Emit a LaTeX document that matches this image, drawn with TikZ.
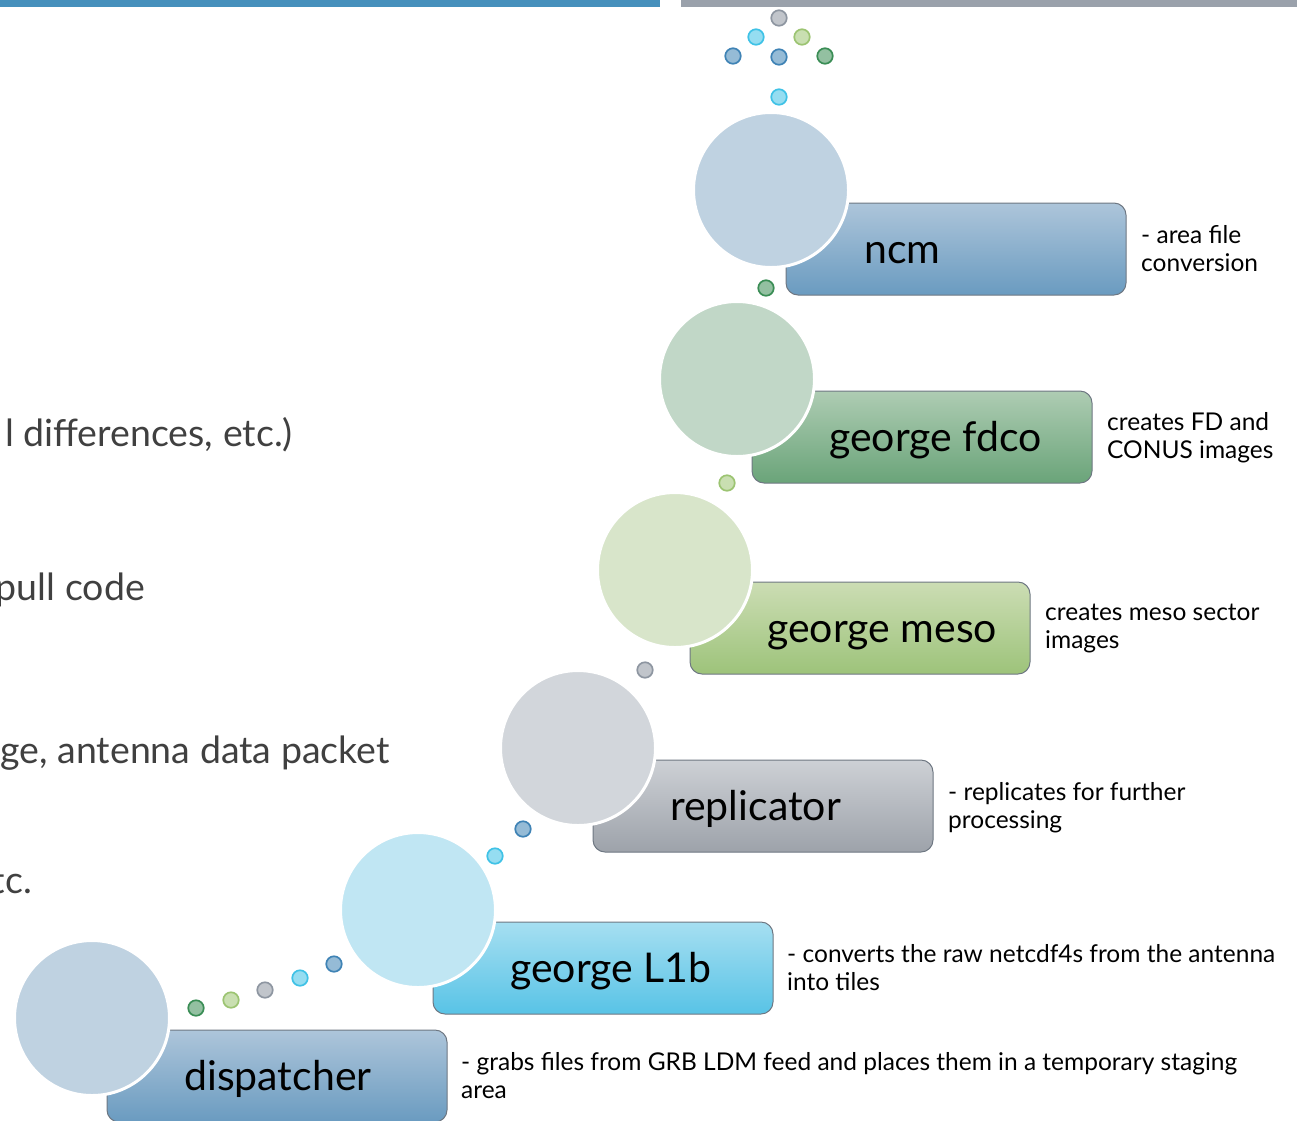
\documentclass[tikz,border=0pt]{standalone}
\usepackage{fontspec}
\setmainfont{Lato}
\definecolor{barblue}{HTML}{4690BC}
\definecolor{bargray}{HTML}{9AA1AB}
\definecolor{boxline}{HTML}{6E7782}
\definecolor{leftgray}{HTML}{404040}
% schemes
\definecolor{blueT}{HTML}{ADC5DA}\definecolor{blueB}{HTML}{6A9BC0}\definecolor{blueC}{HTML}{BFD2E1}
\definecolor{cyanT}{HTML}{A6DFF1}\definecolor{cyanB}{HTML}{58C3E6}\definecolor{cyanC}{HTML}{C0E6F3}
\definecolor{grayT}{HTML}{CDD0D5}\definecolor{grayB}{HTML}{9DA2AA}\definecolor{grayC}{HTML}{D2D6DB}
\definecolor{lgrnT}{HTML}{CCDDB4}\definecolor{lgrnB}{HTML}{9DC37A}\definecolor{lgrnC}{HTML}{D8E5CA}
\definecolor{dgrnT}{HTML}{AECCB3}\definecolor{dgrnB}{HTML}{6AA479}\definecolor{dgrnC}{HTML}{C1D7C7}
% dots
\definecolor{dGray}{HTML}{8E96A1}
\definecolor{dCyan}{HTML}{3FC2E6}
\definecolor{dLgrn}{HTML}{9CC472}
\definecolor{dBlue}{HTML}{3F83B5}
\definecolor{dDgrn}{HTML}{3A8D55}
\begin{document}
\begin{tikzpicture}[x=1pt,y=-1pt,
  stepbox/.style={draw=boxline, line width=1pt, rounded corners=12pt,
    minimum width=340pt, minimum height=92pt, inner sep=0pt},
  bigc/.style={circle, draw=white, line width=3pt, minimum size=155pt, inner sep=0pt},
  lbl/.style={anchor=base west, inner sep=0pt, font=\fontsize{41}{48}\selectfont, text=black},
  desc/.style={anchor=north west, align=left, inner sep=0pt, font=\fontsize{24.5}{28}\selectfont, text=black},
  side/.style={anchor=base east, inner sep=0pt, font=\fontsize{37.5}{42}\selectfont, text=leftgray},
  dot/.style={circle, minimum size=15.5pt, inner sep=0pt, line width=1.7pt, draw=#1, fill=#1!55!white}
]
\useasboundingbox (0,0) rectangle (1297,1120);
\clip (0,0) rectangle (1297,1120);

% top bars
\fill[barblue] (0,0) rectangle (660,7);
\fill[bargray] (681,0) rectangle (1297,7);

% left partial text
\node[side] (t1) at (293,446) {l differences, etc.)};
\node[side] (t2) at (145,600) {pull code};
\node[side] (t3) at (390,763) {ge, antenna data packet};
\node[side] (t4) at (32,893) {tc.};

% dots
\node[dot=dGray] (p1) at (779,18) {};
\node[dot=dCyan] (p2) at (756,37) {};
\node[dot=dLgrn] (p3) at (802,37) {};
\node[dot=dBlue] (p4) at (733,56) {};
\node[dot=dBlue] (p5) at (779,57) {};
\node[dot=dDgrn] (p6) at (825,56) {};
\node[dot=dCyan] (p7) at (779,97) {};
\node[dot=dDgrn] (p8) at (766,288) {};
\node[dot=dLgrn] (p9) at (727,483) {};
\node[dot=dGray] (p10) at (645,670) {};
\node[dot=dBlue] (p11) at (523,829) {};
\node[dot=dCyan] (p12) at (495,856) {};
\node[dot=dDgrn] (p13) at (196,1008) {};
\node[dot=dLgrn] (p14) at (231,1000) {};
\node[dot=dGray] (p15) at (265,990) {};
\node[dot=dCyan] (p16) at (300,978) {};
\node[dot=dBlue] (p17) at (334,964) {};

% step: dispatcher (L=107,T=1030)
\node[stepbox, top color=blueT, bottom color=blueB] (b1) at (277,1076) {};
\node[bigc, fill=blueC] (c1) at (92,1018) {};
\node[lbl] (l1) at (184,1090) {dispatcher};
\node[desc] (e1) at (461,1052) {- grabs files from GRB LDM feed and places them in a temporary staging\\area};

% george L1b (L=433,T=922)
\node[stepbox, top color=cyanT, bottom color=cyanB] (b2) at (603,968) {};
\node[bigc, fill=cyanC] (c2) at (418,910) {};
\node[lbl] (l2) at (510,982) {george L1b};
\node[desc] (e2) at (787,944) {- converts the raw netcdf4s from the antenna\\into tiles};

% replicator (L=593,T=760)
\node[stepbox, top color=grayT, bottom color=grayB] (b3) at (763,806) {};
\node[bigc, fill=grayC] (c3) at (578,748) {};
\node[lbl] (l3) at (670,820) {replicator};
\node[desc] (e3) at (948,782) {- replicates for further\\processing};

% george meso (L=690,T=582)
\node[stepbox, top color=lgrnT, bottom color=lgrnB] (b4) at (860,628) {};
\node[bigc, fill=lgrnC] (c4) at (675,570) {};
\node[lbl] (l4) at (767,642) {george meso};
\node[desc] (e4) at (1045,604) {creates meso sector\\images};

% george fdco (L=752,T=391)
\node[stepbox, top color=dgrnT, bottom color=dgrnB] (b5) at (922,437) {};
\node[bigc, fill=dgrnC] (c5) at (737,379) {};
\node[lbl] (l5) at (829,451) {george fdco};
\node[desc] (e5) at (1107,412) {creates FD and\\CONUS images};

% ncm (L=786,T=203)
\node[stepbox, top color=blueT, bottom color=blueB] (b6) at (956,249) {};
\node[bigc, fill=blueC] (c6) at (771,190) {};
\node[lbl] (l6) at (864,263) {ncm};
\node[desc] (e6) at (1141,225) {- area file\\conversion};
\end{tikzpicture}
\end{document}
